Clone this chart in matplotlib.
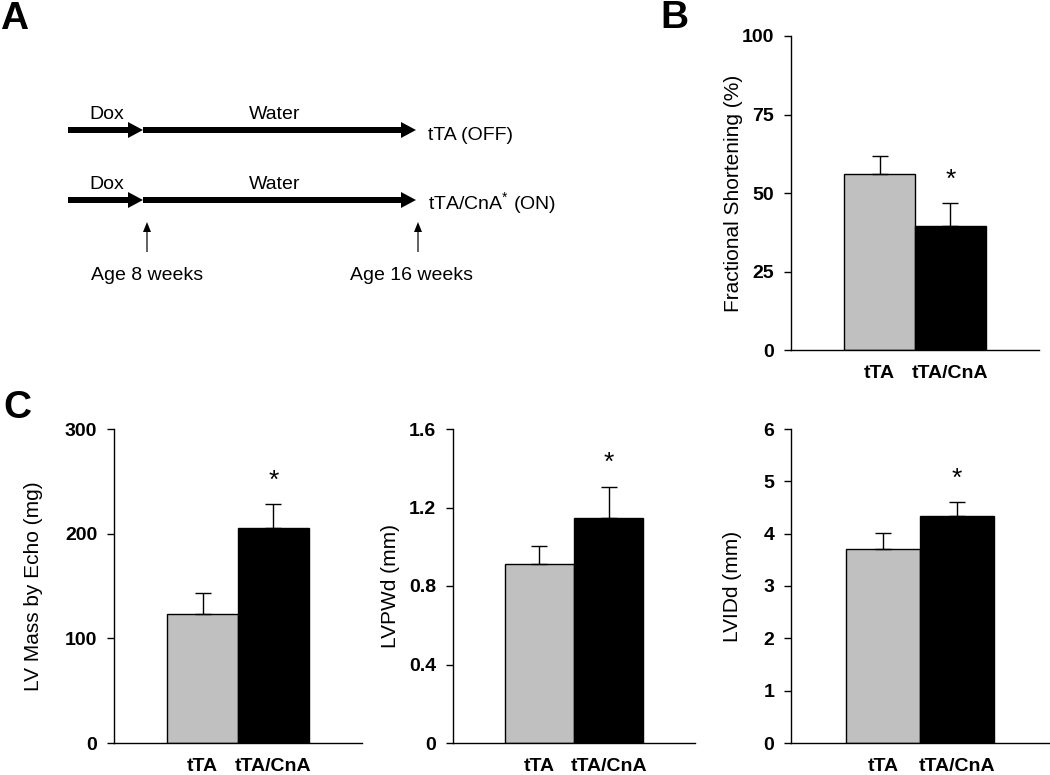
import numpy as np
import matplotlib
matplotlib.use('Agg')
from matplotlib import pyplot as plt

plt.rcParams['font.family'] = ['Liberation Sans', 'DejaVu Sans']
plt.rcParams['mathtext.fontset'] = 'custom'
plt.rcParams['mathtext.rm'] = 'Liberation Sans'

groups = ['tTA', 'tTA/CnA']
bar_colors = ['#c0c0c0', '#000000']

fs_mean = [56.0, 39.5]
fs_err = [5.7, 7.3]

mass_mean = [123, 205]
mass_err = [20, 23]

pwd_mean = [0.912, 1.146]
pwd_err = [0.092, 0.159]

lvid_mean = [3.71, 4.34]
lvid_err = [0.30, 0.26]

W, H = 1050, 775
fig = plt.figure(figsize=(W / 100, H / 100), dpi=100)


def px_axes(x0, x1, ytop, ybot):
    return fig.add_axes([x0 / W, (H - ybot) / H, (x1 - x0) / W, (ybot - ytop) / H])


def bar_panel(ax, means, errs, ymax, yticks, yticklabels, ylabel, labx):
    x = np.arange(len(groups))
    ax.bar(x, means, width=1.0, color=bar_colors, edgecolor='black', linewidth=1.0, zorder=2)
    ax.errorbar(x, means, yerr=[np.zeros(len(errs)), errs], fmt='none', ecolor='black',
                elinewidth=1.0, capsize=6, capthick=1.0, zorder=3)
    ax.set_xlim(-1.25, 2.25)
    ax.set_ylim(0, ymax)
    ax.set_xticks(x)
    ax.set_xticklabels(groups, fontsize=14, fontweight='bold')
    ax.set_yticks(yticks)
    ax.set_yticklabels(yticklabels, fontsize=14, fontweight='bold')
    ax.tick_params(axis='x', length=0, pad=11)
    ax.tick_params(axis='y', direction='out', length=5, width=1, pad=7)
    for s in ['top', 'right']:
        ax.spines[s].set_visible(False)
    for s in ['left', 'bottom']:
        ax.spines[s].set_linewidth(1.0)
    ax.set_ylabel(ylabel, fontsize=15)
    ax.yaxis.set_label_coords(labx, 0.5)
    # significance star over the second bar
    ax.annotate('*', (1, means[1] + errs[1]), xytext=(0, 12), textcoords='offset points',
                ha='center', va='baseline', fontsize=19)


# panel B
axB = px_axes(791, 1039, 36, 350)
bar_panel(axB, fs_mean, fs_err, 100, [0, 25, 50, 75, 100], ['0', '25', '50', '75', '100'],
          'Fractional Shortening (%)', -0.195)

# panel C
axC1 = px_axes(114, 362, 429, 743)
bar_panel(axC1, mass_mean, mass_err, 300, [0, 100, 200, 300], ['0', '100', '200', '300'],
          'LV Mass by Echo (mg)', -0.287)

axC2 = px_axes(453, 695, 429, 743)
bar_panel(axC2, pwd_mean, pwd_err, 1.6, [0, 0.4, 0.8, 1.2, 1.6], ['0', '0.4', '0.8', '1.2', '1.6'],
          'LVPWd (mm)', -0.219)

axC3 = px_axes(791, 1049, 429, 743)
bar_panel(axC3, lvid_mean, lvid_err, 6, [0, 1, 2, 3, 4, 5, 6], ['0', '1', '2', '3', '4', '5', '6'],
          'LVIDd (mm)', -0.191)

# panel A: timeline diagram, drawn in pixel coordinates
axA = fig.add_axes([0, 0, 1, 1], zorder=-1)
axA.set_xlim(0, W)
axA.set_ylim(H, 0)
axA.axis('off')

for y in [130, 200]:
    axA.arrow(68, y, 75, 0, width=6, head_width=16, head_length=15,
              length_includes_head=True, color='black', lw=0)
    axA.arrow(143, y, 273, 0, width=6, head_width=16, head_length=15,
              length_includes_head=True, color='black', lw=0)
    axA.text(107, y - 11, 'Dox', ha='center', va='baseline', fontsize=14)
    axA.text(275, y - 11, 'Water', ha='center', va='baseline', fontsize=14)

axA.text(428, 140, 'tTA (OFF)', ha='left', va='baseline', fontsize=14)
axA.text(428, 210, r'tTA/CnA$^{*}$ (ON)', ha='left', va='baseline', fontsize=14)

for xa in [147, 418]:
    axA.arrow(xa, 252, 0, -30, width=1.2, head_width=8, head_length=10,
              length_includes_head=True, color='black', lw=0)
axA.text(147, 280, 'Age 8 weeks', ha='center', va='baseline', fontsize=14)
axA.text(412, 280, 'Age 16 weeks', ha='center', va='baseline', fontsize=14)

# panel letters
fig.text(0 / W, 1 - 29 / H, 'A', fontsize=28, fontweight='bold', ha='left', va='baseline')
fig.text(660 / W, 1 - 28 / H, 'B', fontsize=28, fontweight='bold', ha='left', va='baseline')
fig.text(3 / W, 1 - 418 / H, 'C', fontsize=28, fontweight='bold', ha='left', va='baseline')

plt.savefig('out.png', dpi=100)
